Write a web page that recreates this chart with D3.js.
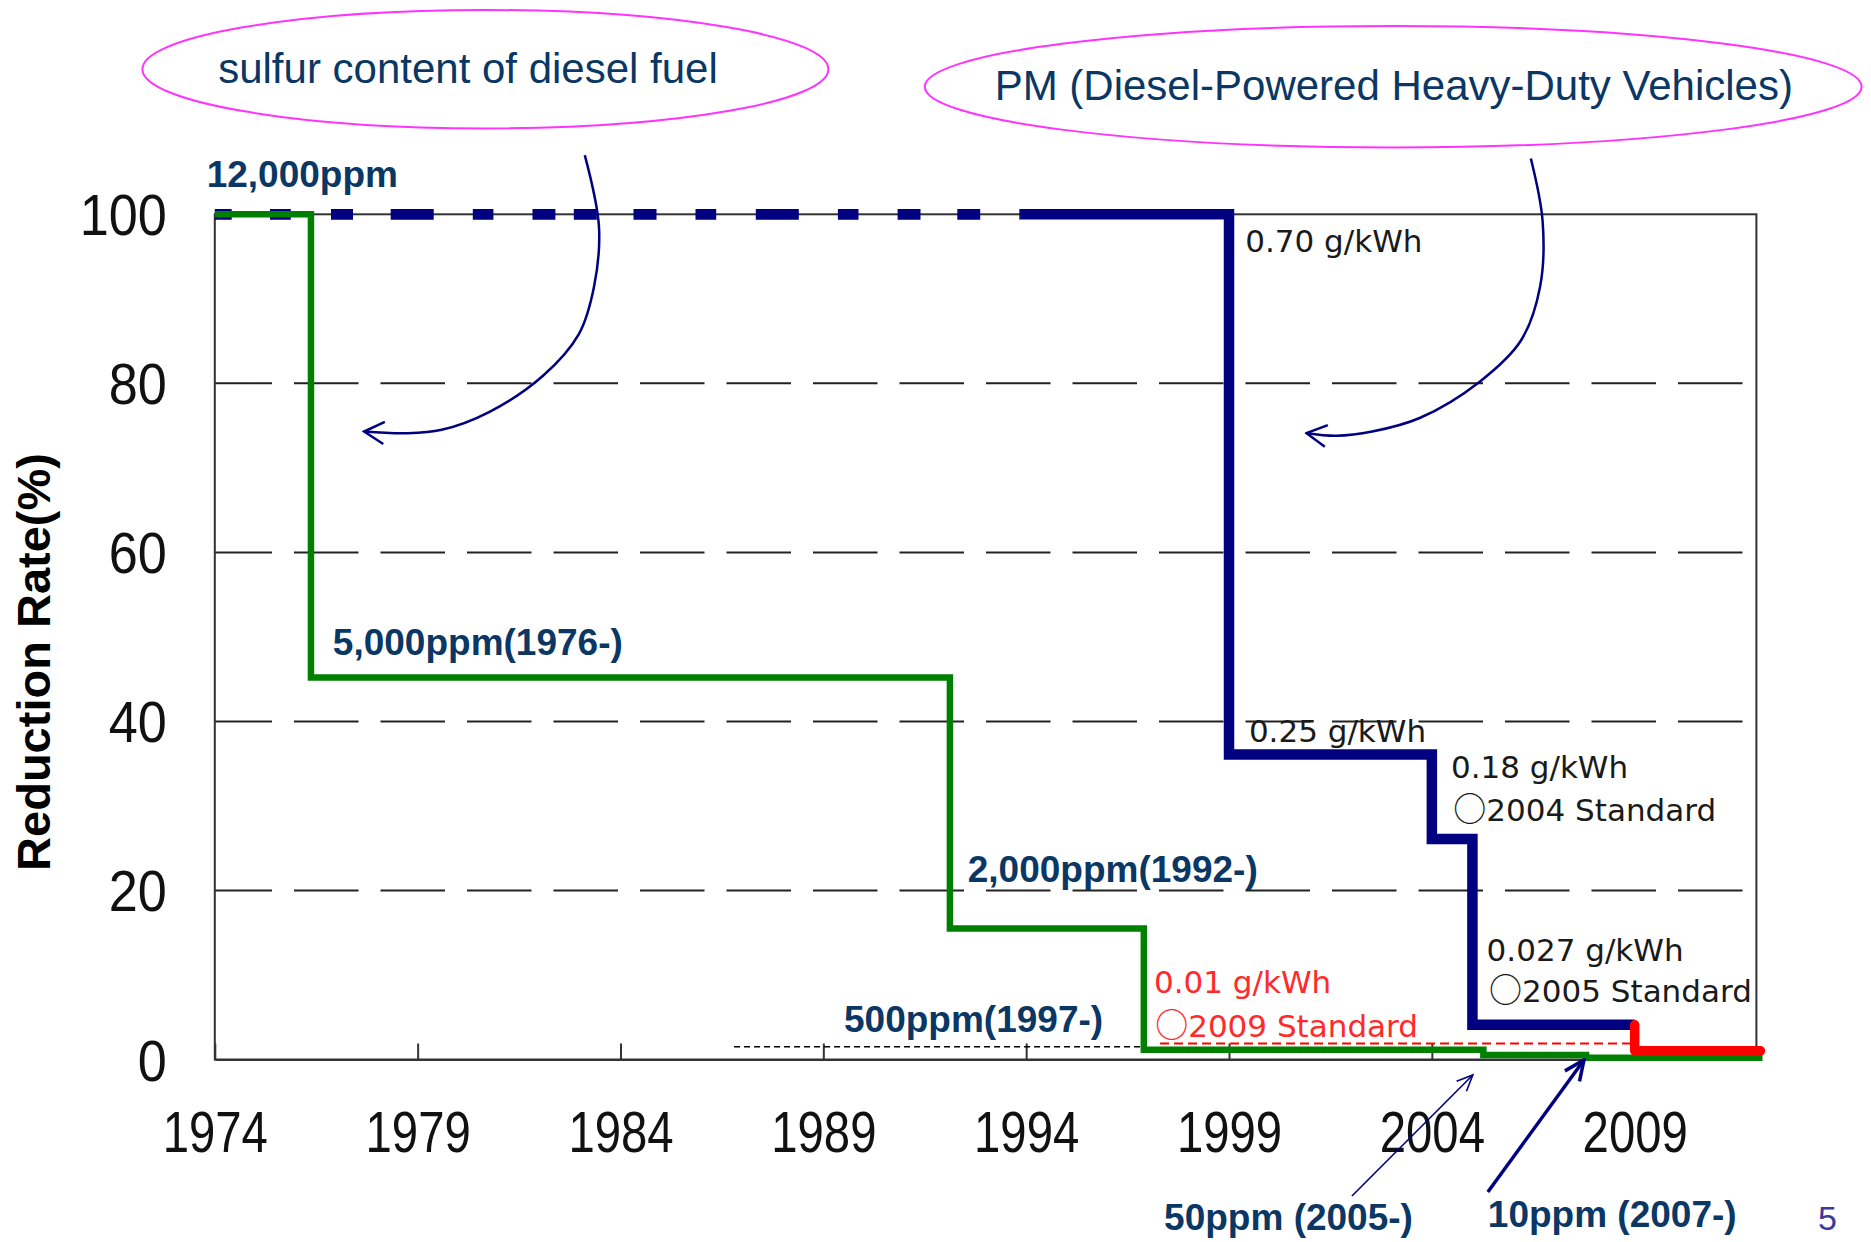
<!DOCTYPE html>
<html>
<head>
<meta charset="utf-8">
<script src="https://cdn.jsdelivr.net/npm/d3@7"></script>
<style>
  body { margin: 0; background: #fff; }
  svg { display: block; }
</style>
</head>
<body>
<svg width="1871" height="1242"></svg>
<script>
// sulfur content of diesel fuel, reduction rate (%) holding from each year on
const sulfurYears = [1974, 1976.37, 1992.12, 1996.9, 2005.27, 2007.8, 2012.15];
const sulfurRate = [100, 45.2, 15.5, 1.16, 0.53, 0.2];

// PM standard (diesel heavy-duty), reduction rate (%) from each year on
const pmBeforeYears = [1974, 1993.85];
const pmYears = [1993.85, 1999, 2004, 2005, 2009];
const pmRate = [100, 36.1, 26.1, 4.1];
const pm2009Years = [2009, 2012.1];
const pm2009Rate = 1.03;

// thin reference lines under the 1997 / 2009 levels
const sulfurRefYears = [1986.8, 1996.9];
const sulfurRefRate = 1.5;
const pmRefYears = [1997.3, 2009];
const pmRefRate = 1.9;

const xTicks = [1974, 1979, 1984, 1989, 1994, 1999, 2004, 2009];
const yTicks = [0, 20, 40, 60, 80, 100];

const navy = '#000080', green = '#008000', red = '#ff0000';
const labelBlue = '#0b3764';

const svg = d3.select('svg');
const x = d3.scaleLinear().domain([1974, 2012]).range([214.8, 1756.4]);
const y = d3.scaleLinear().domain([0, 100]).range([1059.5, 214.3]);

// markers for arrows
const defs = svg.append('defs');
function marker(id, len, half, sw) {
	defs.append('marker')
		.attr('id', id)
		.attr('viewBox', `-2 ${-half - 2} ${len + 4} ${2 * half + 4}`)
		.attr('refX', len).attr('refY', 0)
		.attr('markerWidth', len + 4).attr('markerHeight', 2 * half + 4)
		.attr('markerUnits', 'userSpaceOnUse')
		.attr('orient', 'auto')
		.append('path')
		.attr('d', `M0,${-half}L${len},0L0,${half}`)
		.attr('fill', 'none')
		.attr('stroke', navy)
		.attr('stroke-width', sw);
}
marker('arrowCurve', 20, 11, 2.5);
marker('arrowThin', 16, 7, 1.6);
marker('arrowThick', 20, 9, 3.5);

// gridlines
svg.append('g')
	.selectAll('line')
	.data(yTicks.filter(d => d > 0 && d < 100))
	.join('line')
	.attr('x1', x(1974)).attr('x2', x(2012))
	.attr('y1', d => y(d)).attr('y2', d => y(d))
	.attr('stroke', '#222')
	.attr('stroke-width', 2)
	.attr('stroke-dasharray', '64.5,22')
	.attr('stroke-dashoffset', 7.3);

// frame
svg.append('rect')
	.attr('x', x(1974)).attr('y', y(100))
	.attr('width', x(2012) - x(1974)).attr('height', y(0) - y(100))
	.attr('fill', 'none').attr('stroke', '#333').attr('stroke-width', 2);

// axes
const xAxis = svg.append('g')
	.attr('transform', `translate(0,${y(0)})`)
	.call(d3.axisBottom(x).tickValues(xTicks).tickSize(-16).tickSizeOuter(0).tickFormat(d3.format('d')));
xAxis.select('.domain').attr('stroke', '#333').attr('stroke-width', 2);
xAxis.selectAll('.tick line').attr('stroke', '#333').attr('stroke-width', 2);
xAxis.selectAll('.tick text')
	.attr('y', 0).attr('dy', 0)
	.attr('transform', 'translate(0,92) scale(0.83,1)')
	.style('font-family', '"Liberation Sans", Arial, sans-serif')
	.style('font-size', '57px')
	.attr('fill', '#111');

const yAxis = svg.append('g')
	.attr('transform', `translate(${x(1974)},0)`)
	.call(d3.axisLeft(y).tickValues(yTicks).tickSize(0).tickSizeOuter(0));
yAxis.select('.domain').remove();
yAxis.selectAll('.tick text')
	.attr('x', 0).attr('dy', 0)
	.attr('transform', 'translate(-48,20.5) scale(0.9,1)')
	.style('font-family', '"Liberation Sans", Arial, sans-serif')
	.style('font-size', '58px')
	.attr('fill', '#111');

svg.append('text')
	.attr('transform', 'translate(50,662) rotate(-90)')
	.attr('text-anchor', 'middle')
	.style('font-family', '"Liberation Sans", Arial, sans-serif')
	.style('font-size', '47px')
	.style('font-weight', 'bold')
	.attr('fill', '#000')
	.text('Reduction Rate(%)');

// step lines
const line = d3.line().x(d => x(d[0])).y(d => y(d[1])).curve(d3.curveStepAfter);
function steps(years, vals) {
	return years.map((yr, i) => [yr, vals[Math.min(i, vals.length - 1)]]);
}

svg.append('path')
	.attr('d', line(pmBeforeYears.map(yr => [yr, 100])))
	.attr('fill', 'none').attr('stroke', navy).attr('stroke-width', 10.7)
	.attr('stroke-dasharray', '16.9,38.3,20.8,40.2,22,37.7,43,39.1,20.6,39.1,22.9,18.4,23,36.7,23,39,20.7,39.6,43,39.1,20.6,39.1,22.9,36.8,22.9,39.1');

svg.append('path')
	.attr('d', line(steps(pmYears, pmRate)))
	.attr('fill', 'none').attr('stroke', navy).attr('stroke-width', 10.5)
	.attr('stroke-linejoin', 'miter');

svg.append('path')
	.attr('d', line(pmRefYears.map(yr => [yr, pmRefRate])))
	.attr('fill', 'none').attr('stroke', red).attr('stroke-width', 2)
	.attr('stroke-dasharray', '9,5');

svg.append('path')
	.attr('d', line(sulfurRefYears.map(yr => [yr, sulfurRefRate])))
	.attr('fill', 'none').attr('stroke', '#000').attr('stroke-width', 1.6)
	.attr('stroke-dasharray', '6,4');

svg.append('path')
	.attr('d', line(steps(sulfurYears, sulfurRate)))
	.attr('fill', 'none').attr('stroke', green).attr('stroke-width', 6.5)
	.attr('stroke-linejoin', 'miter');

svg.append('path')
	.attr('d', line([[pm2009Years[0], pmRate[pmRate.length - 1]], [pm2009Years[0], pm2009Rate], [pm2009Years[1], pm2009Rate]]))
	.attr('fill', 'none').attr('stroke', red).attr('stroke-width', 9.5)
	.attr('stroke-linejoin', 'round').attr('stroke-linecap', 'round');

// ellipse titles
const titles = [
	{text: 'sulfur content of diesel fuel', cx: 485.4, cy: 69.2, rx: 343, ry: 59.2, tx: 468, ty: 83},
	{text: 'PM (Diesel-Powered Heavy-Duty Vehicles)', cx: 1393.2, cy: 86.7, rx: 468.4, ry: 60.7, tx: 1393.8, ty: 100}
];
const tg = svg.append('g').selectAll('g').data(titles).join('g');
tg.append('ellipse')
	.attr('cx', d => d.cx).attr('cy', d => d.cy).attr('rx', d => d.rx).attr('ry', d => d.ry)
	.attr('fill', 'none').attr('stroke', '#ff33ff').attr('stroke-width', 2);
tg.append('text')
	.attr('x', d => d.tx).attr('y', d => d.ty)
	.attr('text-anchor', 'middle')
	.style('font-family', '"Liberation Sans", Arial, sans-serif')
	.style('font-size', '42px')
	.attr('fill', labelBlue)
	.text(d => d.text);

// curved arrows from titles
const curve1 = [[1983.12, 107.0], [1983.47, 98.5], [1983.35, 91.5], [1982.97, 85.8], [1982.09, 80.9],
	[1980.76, 76.6], [1979.59, 74.5], [1978.71, 74.1], [1977.68, 74.3]];
const curve2 = [[2006.44, 106.6], [2006.73, 99.2], [2006.67, 91.5], [2006.2, 85.1], [2005.18, 80.2],
	[2003.7, 75.9], [2002.53, 74.3], [2001.65, 73.8], [2000.91, 74.1]];
const smooth = d3.line().x(d => x(d[0])).y(d => y(d[1])).curve(d3.curveCatmullRom);
[curve1, curve2].forEach(c => {
	svg.append('path')
		.attr('d', smooth(c))
		.attr('fill', 'none').attr('stroke', navy).attr('stroke-width', 2.5)
		.attr('marker-end', 'url(#arrowCurve)');
});

// straight arrows to the 2005 / 2007 steps
svg.append('path')
	.attr('d', d3.line().x(d => x(d[0])).y(d => y(d[1]))([[2002.03, -16.15], [2005.01, -1.83]]))
	.attr('stroke', navy).attr('stroke-width', 1.6).attr('fill', 'none')
	.attr('marker-end', 'url(#arrowThin)');
svg.append('path')
	.attr('d', d3.line().x(d => x(d[0])).y(d => y(d[1]))([[2005.38, -15.68], [2007.75, -0.06]]))
	.attr('stroke', navy).attr('stroke-width', 3.5).attr('fill', 'none')
	.attr('marker-end', 'url(#arrowThick)');

// sulfur labels
const sulfurNotes = [
	{text: '12,000ppm', at: [1973.8, 103.27]},
	{text: '5,000ppm(1976-)', at: [1976.91, 47.86]},
	{text: '2,000ppm(1992-)', at: [1992.56, 21.04]},
	{text: '500ppm(1997-)', at: [1989.51, 3.25]},
	{text: '50ppm (2005-)', at: [1997.40, -20.17]},
	{text: '10ppm (2007-)', at: [2005.38, -19.82]}
];
svg.append('g').selectAll('text').data(sulfurNotes).join('text')
	.attr('x', d => x(d.at[0])).attr('y', d => y(d.at[1]))
	.style('font-family', '"Liberation Sans", Arial, sans-serif')
	.style('font-size', '37px')
	.style('font-weight', 'bold')
	.attr('fill', labelBlue)
	.text(d => d.text);

// PM labels; mark is the standard circle
const pmNotes = [
	{mark: '', text: '0.70 g/kWh', at: [1999.40, 95.54], c: '#1a1a1a'},
	{mark: '', text: '0.25 g/kWh', at: [1999.49, 37.57], c: '#1a1a1a'},
	{mark: '', text: '0.18 g/kWh', at: [2004.47, 33.31], c: '#1a1a1a'},
	{mark: '\u25CB', text: '2004 Standard', at: [2004.53, 28.22], c: '#1a1a1a'},
	{mark: '', text: '0.027 g/kWh', at: [2005.35, 11.65], c: '#1a1a1a'},
	{mark: '\u25CB', text: '2005 Standard', at: [2005.41, 6.80], c: '#1a1a1a'},
	{mark: '', text: '0.01 g/kWh', at: [1997.15, 7.87], c: '#ff2a2a'},
	{mark: '\u25CB', text: '2009 Standard', at: [1997.18, 2.66], c: '#ff2a2a'}
];
const pmText = svg.append('g').selectAll('text').data(pmNotes).join('text')
	.attr('x', d => x(d.at[0])).attr('y', d => y(d.at[1]))
	.style('font-family', '"DejaVu Sans", sans-serif')
	.style('font-size', '31px')
	.attr('fill', d => d.c);
pmText.filter(d => d.mark)
	.append('tspan')
	.style('font-family', '"Noto Sans CJK JP", sans-serif')
	.style('font-size', '33px')
	.text(d => d.mark);
pmText.append('tspan').text(d => d.text);

// page number
svg.append('text')
	.attr('x', 1818).attr('y', 1230)
	.style('font-family', '"Liberation Sans", Arial, sans-serif')
	.style('font-size', '34px')
	.attr('fill', '#3b3b9e')
	.text('5');
</script>
</body>
</html>
